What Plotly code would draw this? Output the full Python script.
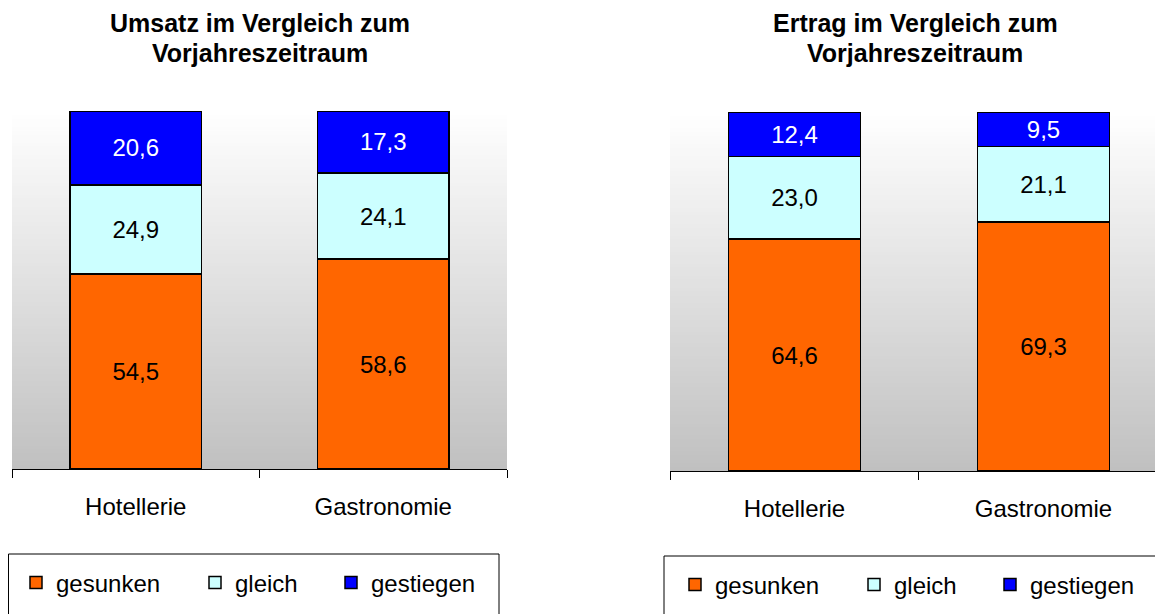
import plotly.graph_objects as go
from plotly.subplots import make_subplots

categories = ["Hotellerie", "Gastronomie"]
series_names = ["gesunken", "gleich", "gestiegen"]

umsatz_gesunken = [54.5, 58.6]
umsatz_gleich = [24.9, 24.1]
umsatz_gestiegen = [20.6, 17.3]

ertrag_gesunken = [64.6, 69.3]
ertrag_gleich = [23.0, 21.1]
ertrag_gestiegen = [12.4, 9.5]

title_lines = [["Umsatz im Vergleich zum", "Vorjahreszeitraum"],
               ["Ertrag im Vergleich zum", "Vorjahreszeitraum"]]

# page has an 8px body margin, so the figure is a bit smaller than the window
OFF = 8
W, H = 1163 - OFF, 614 - OFF
FONT = "Liberation Sans, Arial, sans-serif"
colors = {"gesunken": "#FF6600", "gleich": "#CCFFFF", "gestiegen": "#0000FF"}
text_colors = {"gesunken": "black", "gleich": "black", "gestiegen": "white"}


def px_x(v):
    return (v - OFF) / W


def px_y(v):
    return 1 - (v - OFF) / H


def add_bars(fig, col, values, legends):
    for name, vals, leg in zip(series_names, values, legends):
        fig.add_trace(go.Bar(
            x=categories, y=vals, name=name,
            marker=dict(color=colors[name], line=dict(color="black", width=1.5)),
            texttemplate="%{y:.1f}", textposition="inside",
            insidetextanchor="middle", constraintext="none",
            textfont=dict(family=FONT, size=24, color=text_colors[name]),
            legend=leg, hoverinfo="skip"
        ), row=1, col=col)


def add_gradient(fig, xref, yref, n=90):
    # grey-to-white background, drawn as thin bands
    for i in range(n):
        v = int(round(192 + 63 * (i + 0.5) / n))
        fig.add_shape(type="rect", xref=xref, yref=yref,
                      x0=0, x1=1, y0=i / n, y1=min(1, (i + 1.6) / n),
                      fillcolor=f"rgb({v},{v},{v})", line=dict(width=0),
                      layer="below")


fig = make_subplots(rows=1, cols=2)

add_bars(fig, 1, [umsatz_gesunken, umsatz_gleich, umsatz_gestiegen],
         ["legend", "legend2", "legend3"])
add_bars(fig, 2, [ertrag_gesunken, ertrag_gleich, ertrag_gestiegen],
         ["legend4", "legend5", "legend6"])

add_gradient(fig, "x domain", "y domain")
add_gradient(fig, "x2 domain", "y2 domain")

axis_common = dict(
    showline=True, linecolor="black", linewidth=1,
    ticks="outside", tickson="boundaries", ticklen=8, tickcolor="black",
    ticklabelstandoff=16, showgrid=False,
    tickfont=dict(family=FONT, size=24, color="black"),
)
fig.update_xaxes(**axis_common)
fig.update_layout(
    xaxis=dict(domain=[px_x(12), px_x(507)], range=[-0.5, 1.5]),
    xaxis2=dict(domain=[px_x(670), 1], range=[-0.5, 1.48]),
    yaxis=dict(domain=[px_y(469), px_y(111)]),
    yaxis2=dict(domain=[px_y(471), px_y(112)]),
)
fig.update_yaxes(range=[0, 100], visible=False, showgrid=False, zeroline=False)

# titles, one annotation per line
for lines, cx in zip(title_lines, [260, 915]):
    for line, cy in zip(lines, [23, 53]):
        fig.add_annotation(text=line, xref="paper", yref="paper",
                           x=px_x(cx), y=px_y(cy), xanchor="center", yanchor="middle",
                           showarrow=False,
                           font=dict(family=FONT, size=25, color="black", weight="bold"))

# legend frames
for x0, x1, y0 in [(OFF + 0.5, 499, 554), (664, 1158, 556)]:
    fig.add_shape(type="rect", xref="paper", yref="paper",
                  x0=px_x(x0), x1=px_x(x1), y0=px_y(y0), y1=px_y(620),
                  line=dict(color="black", width=1), fillcolor="white", layer="below")

legend_pos = [(57, 583), (236, 583), (372, 583), (716, 585), (895, 585), (1031, 585)]
legend_layout = {}
for i, (tx, ty) in enumerate(legend_pos):
    key = "legend" if i == 0 else f"legend{i + 1}"
    legend_layout[key] = dict(
        x=px_x(tx - 41), y=px_y(ty), xanchor="left", yanchor="middle",
        orientation="h", bgcolor="rgba(0,0,0,0)", borderwidth=0,
        font=dict(family=FONT, size=24, color="black"),
    )

fig.update_layout(
    width=W, height=H,
    margin=dict(l=0, r=0, t=0, b=0),
    paper_bgcolor="white", plot_bgcolor="white",
    barmode="stack", bargap=0.47,
    separators=",.",
    showlegend=True,
    **legend_layout,
)

fig.write_html("out.html")
